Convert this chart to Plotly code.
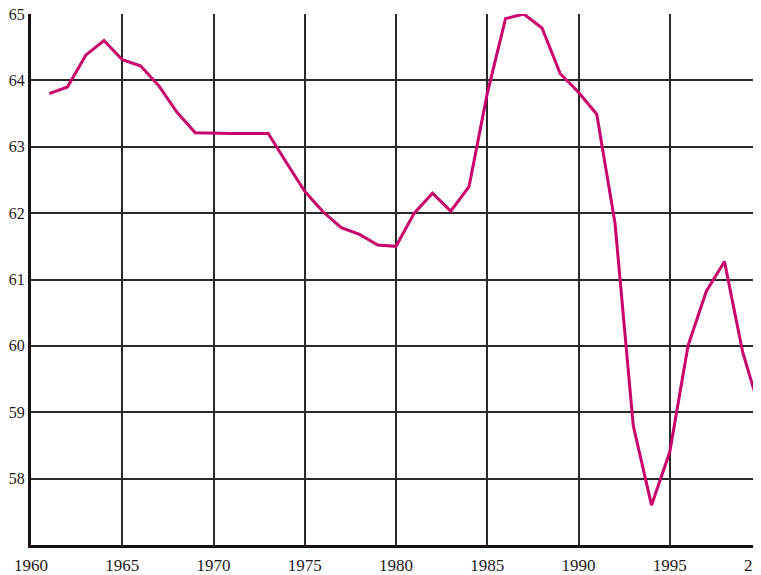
import plotly.graph_objects as go

years = list(range(1961, 2001))
values = [63.80, 63.90, 64.38, 64.60, 64.31, 64.22, 63.92, 63.52, 63.21, 63.20,
          63.20, 63.20, 63.20, 62.76, 62.33, 62.02, 61.78, 61.68, 61.52, 61.50,
          62.00, 62.30, 62.03, 62.40, 63.80, 64.93, 65.00, 64.79, 64.10, 63.82,
          63.49, 61.85, 58.80, 57.60, 58.40, 60.00, 60.82, 61.27, 59.90, 58.98]
x_ticks = [1960, 1965, 1970, 1975, 1980, 1985, 1990, 1995, 2000]
y_ticks = [58, 59, 60, 61, 62, 63, 64, 65]

fig = go.Figure()
fig.add_trace(go.Scatter(x=years, y=values, mode="lines",
                         line=dict(color="#c8006c", width=3), showlegend=False))

font = dict(family="Liberation Serif", size=17, color="#1e1a1a")
yfont = dict(family="Liberation Serif", size=16, color="#1e1a1a")
# page body has an 8px margin: figure is shrunk by 8px so the plot area sits
# at x 31..761, y 14..545 in the 761x575 window
fig.update_layout(
    width=753, height=567,
    margin=dict(l=23, r=0, t=6, b=30),
    paper_bgcolor="white", plot_bgcolor="white",
    font=font,
    xaxis=dict(range=[1960, 2000], tickvals=x_ticks, ticktext=[str(v) for v in x_ticks],
               showgrid=True, gridcolor="#2a2a2a", gridwidth=2,
               showline=True, linecolor="#1a1212", linewidth=3,
               ticks="", ticklen=0, zeroline=False, tickfont=font, automargin=False,
               ticklabelstandoff=3, ticklabeloverflow="allow"),
    yaxis=dict(range=[57, 65], tickvals=y_ticks, ticktext=[str(v) for v in y_ticks],
               showgrid=True, gridcolor="#2a2a2a", gridwidth=2,
               showline=True, linecolor="#1a1212", linewidth=3,
               ticks="", ticklen=0, zeroline=False, tickfont=yfont, automargin=False,
               ticklabelstandoff=0, ticklabeloverflow="allow"),
)
fig.write_html("out.html")
